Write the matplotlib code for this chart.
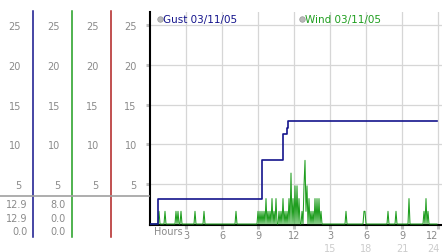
import matplotlib
matplotlib.use("Agg")
import matplotlib.pyplot as plt
import numpy as np
from matplotlib.lines import Line2D

# wind, one reading every 5 minutes, one row per hour
wind = [
    0, 0, 0, 0, 0, 0, 0, 0, 0, 1.6, 0, 0,
    0, 0, 0, 1.6, 0, 0, 0, 0, 0, 0, 0, 0,
    0, 0, 1.6, 0, 1.6, 0, 0, 1.6, 0, 0, 0, 0,
    0, 0, 0, 0, 0, 0, 0, 0, 0, 1.6, 0, 0,
    0, 0, 0, 0, 0, 0, 1.6, 0, 0, 0, 0, 0,
    0, 0, 0, 0, 0, 0, 0, 0, 0, 0, 0, 0,
    0, 0, 0, 0, 0, 0, 0, 0, 0, 0, 0, 0,
    0, 0, 1.6, 0, 0, 0, 0, 0, 0, 0, 0, 0,
    0, 0, 0, 0, 0, 0, 0, 0, 0, 0, 0, 0,
    1.6, 0, 1.6, 0, 1.6, 0, 1.6, 0, 3.2, 0, 1.6, 0,
    1.6, 0, 3.2, 0, 1.6, 0, 3.2, 0, 0, 1.6, 0, 1.6,
    0, 3.2, 0, 1.6, 0, 1.6, 0, 3.2, 0, 6.4, 0, 3.2,
    0, 4.8, 0, 4.8, 0, 3.2, 0, 0, 1.6, 0, 4.8, 8.0,
    1.6, 4.8, 0, 3.2, 0, 1.6, 0, 1.6, 0, 3.2, 0, 3.2,
    0, 3.2, 0, 1.6, 0, 0, 0, 0, 0, 0, 0, 0,
    0, 0, 0, 0, 0, 0, 0, 0, 0, 0, 0, 0,
    0, 0, 0, 0, 1.6, 0, 0, 0, 0, 0, 0, 0,
    0, 0, 0, 0, 0, 0, 0, 0, 0, 0, 1.6, 1.6,
    0, 0, 0, 0, 0, 0, 0, 0, 0, 0, 0, 0,
    0, 0, 0, 0, 0, 0, 0, 0, 0, 0, 1.6, 0,
    0, 0, 0, 0, 0, 0, 1.6, 0, 0, 0, 0, 0,
    0, 0, 0, 0, 0, 0, 0, 3.2, 0, 0, 0, 0,
    0, 0, 0, 0, 0, 0, 0, 0, 0, 0, 1.6, 0,
    3.2, 0, 1.6, 0, 0, 0, 0, 0, 0, 0, 0, 0,
]
wind_step_min = 5

# gust changes (hour, value)
gust_hours = [0, 0.67, 9.33, 11.05, 11.1, 11.42, 11.5, 23.92]
gust_vals = [0, 3.2, 8.0, 9.7, 11.3, 12.1, 12.9, 12.9]

series_labels = ["Gust 03/11/05", "Wind 03/11/05"]
gust_readout = ["12.9", "12.9", "0.0"]
wind_readout = ["8.0", "0.0", "0.0"]

yticks = [5, 10, 15, 20, 25]
xticks = [3, 6, 9, 12, 15, 18, 21, 24]
xlabels_top = ["3", "6", "9", "12", "3", "6", "9", "12"]
xlabels_bottom = ["", "", "", "", "15", "18", "21", "24"]

W, H = 442, 253
k = 7.96  # px per unit
y_lo = -0.12
gray = "#8a8a8a"
navy = "#14148c"
green = "#1f9e1f"

fig = plt.figure(figsize=(W / 100, H / 100), dpi=100)
plt.rcParams['font.family'] = ['DejaVu Sans']

ax = fig.add_axes([150 / W, (H - 226) / H, 291.6 / W, 213 / H])
ax.set_xlim(0, 24.3)
ax.set_ylim(y_lo, y_lo + 213 / k)
ax.set_facecolor("none")

hours = np.arange(len(wind)) * wind_step_min / 60
ax.plot(hours, wind, color=green, lw=0.75, zorder=3)
ax.plot(gust_hours, gust_vals, color=navy, lw=1.2, drawstyle="steps-post", zorder=4)

ax.grid(color="#d6d6d6", lw=0.9)
ax.set_axisbelow(True)
for s in ["top", "right"]:
    ax.spines[s].set_visible(False)
ax.spines["left"].set_color("black")
ax.spines["bottom"].set_color("black")
ax.spines["left"].set_linewidth(1.5)
ax.spines["bottom"].set_linewidth(1.5)

ax.set_yticks(yticks)
ax.set_yticklabels([str(v) for v in yticks])
ax.tick_params(axis="y", length=3, width=2.2, color="#c0c0c0", pad=6.5,
               labelsize=7, labelcolor=gray)
ax.set_xticks(xticks)
ax.set_xticklabels(xlabels_top)
ax.tick_params(axis="x", length=3, width=2.2, color="#c0c0c0", pad=0.6,
               labelsize=7, labelcolor=gray)
ax.get_xticklabels()[-1].set_ha("right")
for h, lab in zip(xticks, xlabels_bottom):
    if lab:
        last = h == xticks[-1]
        ax.annotate(lab, xy=(h, 0), xycoords=("data", "axes fraction"),
                    xytext=(1.5 if last else 0, -16.5), textcoords="offset points",
                    ha="right" if last else "center", va="center",
                    fontsize=7, color="#cccccc")
ax.annotate("Hours", xy=(0, 0), xycoords="axes fraction", xytext=(3, -4),
            textcoords="offset points", ha="left", va="center",
            fontsize=7, color=gray)

# legend
for lab, col, xc in zip(series_labels, [navy, green], [10 / 291.6, 151.7 / 291.6]):
    ax.plot([xc], [(226 - 20) / 213], "o", ms=4, mfc="#b8b8b8", mec="#999999",
            mew=0.5, transform=ax.transAxes, clip_on=False)
    ax.text(xc + 3 / 291.6, (226 - 20.5) / 213, lab, transform=ax.transAxes,
            fontsize=7.5, color=col, ha="left", va="center")

# left scale columns
col_lo = y_lo + (226 - 238) / k
col_hi = y_lo + (226 - 12) / k
for xs, col in zip([33.3, 72.3, 111.0], [navy, green, "#b02020"]):
    c = fig.add_axes([xs / W, (H - 238) / H, 1 / W, 226 / H])
    c.set_ylim(col_lo, col_hi)
    c.set_facecolor("none")
    for s in ["top", "right", "bottom"]:
        c.spines[s].set_visible(False)
    c.spines["left"].set_color(col)
    c.spines["left"].set_linewidth(1.1)
    c.set_xticks([])
    c.set_yticks(yticks)
    c.set_yticklabels([str(v) for v in yticks])
    c.tick_params(axis="y", length=0, pad=8.8, labelsize=7, labelcolor=gray)

fig.add_artist(Line2D([0, 149 / W], [1 - 197 / H] * 2, color="#a0a0a0", lw=1.2))

for xr, vals in zip([27.5, 66.0], [gust_readout, wind_readout]):
    for yr, v in zip([205, 219, 232.5], vals):
        fig.text(xr / W, 1 - yr / H, v, ha="right", va="center",
                 fontsize=7, color=gray)

fig.savefig("out.png", dpi=100)
